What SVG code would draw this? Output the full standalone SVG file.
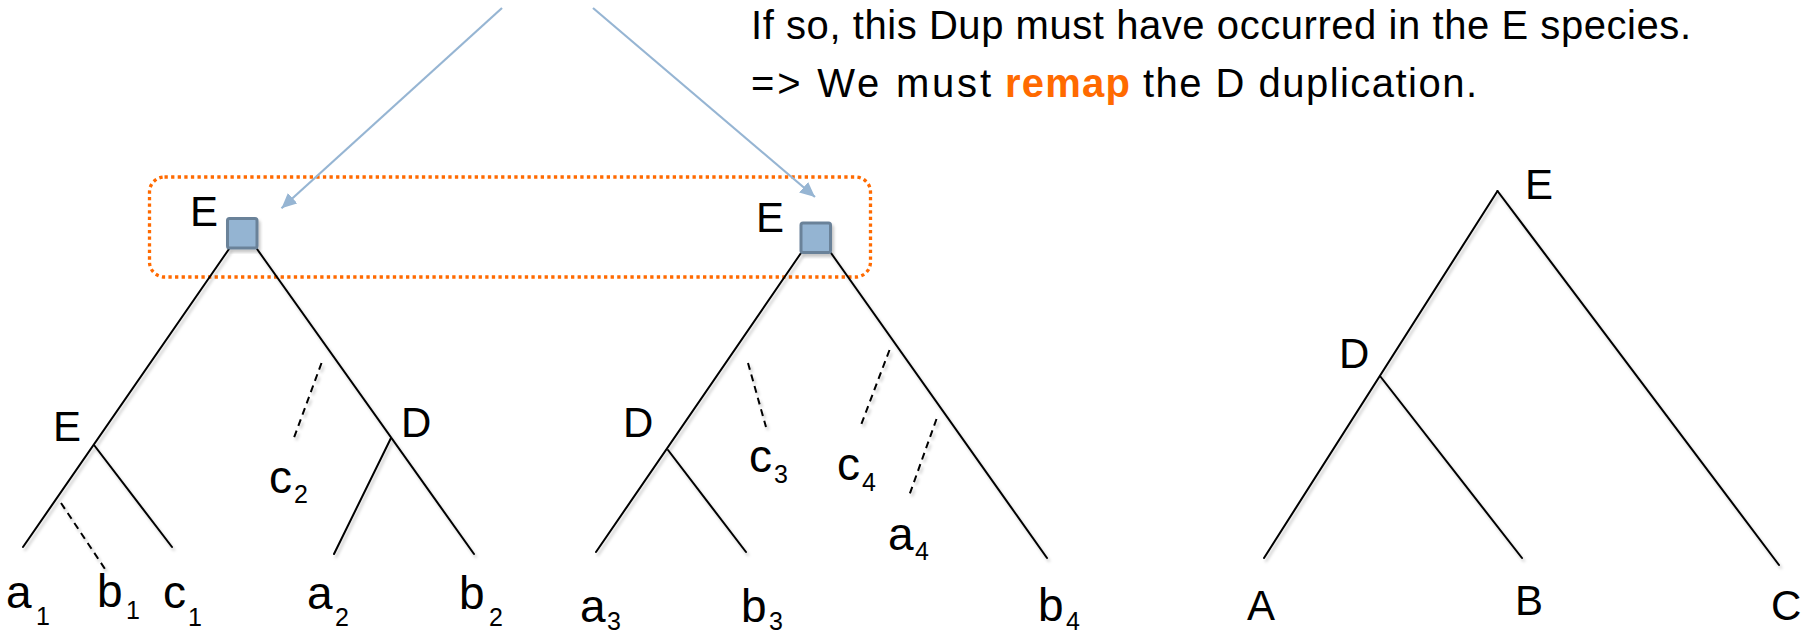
<svg xmlns="http://www.w3.org/2000/svg" width="1810" height="633" viewBox="0 0 1810 633">
<style>
text{font-family:"Liberation Sans",Arial,sans-serif;fill:#000}
.cap{font-size:42px}
.lc{font-size:46px}
.sub{font-size:25px}
.txt{font-size:40px}
.br{stroke:#000;stroke-width:2;fill:none;stroke-linecap:round}
.dash{stroke:#000;stroke-width:2;fill:none;stroke-dasharray:7 5}
.arr{stroke:#96b5d3;stroke-width:2.2;fill:none;marker-end:url(#ah)}
.sq{fill:#94b4d2;stroke:#6b8299;stroke-width:3}
.hl{fill:none;stroke:#ff6a00;stroke-width:3.3;stroke-dasharray:3.3 3.3}
</style>
<defs>
<marker id="ah" markerUnits="userSpaceOnUse" markerWidth="16" markerHeight="14" refX="15" refY="7" orient="auto">
<path d="M0,0 L15,7 L0,14 z" fill="#96b5d3"/>
</marker>
<filter id="sh" x="-10%" y="-10%" width="130%" height="130%">
<feDropShadow dx="2" dy="3" stdDeviation="1.8" flood-color="#000" flood-opacity="0.22"/>
</filter>
</defs>

<g id="caption">
<text class="txt" x="751" y="39" textLength="940" lengthAdjust="spacing">If so, this Dup must have occurred in the E species.</text>
<text class="txt" x="751" y="97" textLength="240" lengthAdjust="spacing">=&gt; We must</text>
<text class="txt" x="1005" y="97" textLength="125" lengthAdjust="spacing" style="fill:#ff6a00;font-weight:bold">remap</text>
<text class="txt" x="1143" y="97" textLength="334" lengthAdjust="spacing">the D duplication.</text>
</g>

<g id="highlight">
<rect class="hl" x="149.5" y="177" width="721" height="100" rx="15" ry="15"/>
</g>

<g id="connectors">
<g filter="url(#sh)">
<!-- tree 1 -->
<line class="br" x1="229" y1="249" x2="23" y2="547"/>
<line class="br" x1="94" y1="445" x2="172" y2="547"/>
<line class="br" x1="257" y1="249" x2="474" y2="554"/>
<line class="br" x1="391" y1="438" x2="334" y2="554"/>
<line class="dash" x1="61" y1="503" x2="107" y2="572"/>
<line class="dash" x1="321.5" y1="363" x2="293.5" y2="439"/>
<!-- tree 2 -->
<line class="br" x1="801" y1="253" x2="596" y2="552"/>
<line class="br" x1="668" y1="450" x2="746" y2="552"/>
<line class="br" x1="831" y1="253" x2="1047" y2="558"/>
<line class="dash" x1="748" y1="363" x2="766" y2="427"/>
<line class="dash" x1="889.5" y1="350" x2="861" y2="425"/>
<line class="dash" x1="936.5" y1="419" x2="909" y2="496"/>
<!-- tree 3 -->
<line class="br" x1="1497.5" y1="191" x2="1264" y2="558"/>
<line class="br" x1="1380" y1="376" x2="1522" y2="558"/>
<line class="br" x1="1497.5" y1="191" x2="1779" y2="565"/>
</g>
<line class="arr" x1="502" y1="8" x2="281.5" y2="208.3"/>
<line class="arr" x1="593" y1="8" x2="815" y2="197"/>
</g>

<g id="node-dup-left">
<rect class="sq" x="227.5" y="218.5" width="29.5" height="29.5" rx="2" filter="url(#sh)"/>
<text class="cap" x="190" y="226">E</text>
</g>
<g id="node-dup-right">
<rect class="sq" x="801" y="223" width="29.5" height="29.5" rx="2" filter="url(#sh)"/>
<text class="cap" x="756" y="232">E</text>
</g>
<g id="node-t1-E"><text class="cap" x="53" y="441">E</text></g>
<g id="node-t1-D"><text class="cap" x="401" y="437">D</text></g>
<g id="node-t2-D"><text class="cap" x="623" y="437">D</text></g>
<g id="node-t3-E"><text class="cap" x="1525" y="199">E</text></g>
<g id="node-t3-D"><text class="cap" x="1339" y="368">D</text></g>

<g id="leaf-a1"><text class="lc" x="6" y="608">a</text><text class="sub" x="36" y="625">1</text></g>
<g id="leaf-b1"><text class="lc" x="97" y="607">b</text><text class="sub" x="126" y="619">1</text></g>
<g id="leaf-c1"><text class="lc" x="163" y="608">c</text><text class="sub" x="188" y="626">1</text></g>
<g id="leaf-c2"><text class="lc" x="269" y="493">c</text><text class="sub" x="294" y="503">2</text></g>
<g id="leaf-a2"><text class="lc" x="307" y="609">a</text><text class="sub" x="335" y="626">2</text></g>
<g id="leaf-b2"><text class="lc" x="459" y="609">b</text><text class="sub" x="489" y="626">2</text></g>
<g id="leaf-a3"><text class="lc" x="580" y="622">a</text><text class="sub" x="607" y="630">3</text></g>
<g id="leaf-b3"><text class="lc" x="741" y="622">b</text><text class="sub" x="769" y="630">3</text></g>
<g id="leaf-c3"><text class="lc" x="749" y="472">c</text><text class="sub" x="774" y="483">3</text></g>
<g id="leaf-c4"><text class="lc" x="837" y="480">c</text><text class="sub" x="862" y="491">4</text></g>
<g id="leaf-a4"><text class="lc" x="888" y="550">a</text><text class="sub" x="915" y="560">4</text></g>
<g id="leaf-b4"><text class="lc" x="1038" y="621">b</text><text class="sub" x="1066" y="630">4</text></g>
<g id="leaf-A"><text class="cap" x="1247" y="620">A</text></g>
<g id="leaf-B"><text class="cap" x="1515" y="615">B</text></g>
<g id="leaf-C"><text class="cap" x="1771" y="620">C</text></g>
</svg>
